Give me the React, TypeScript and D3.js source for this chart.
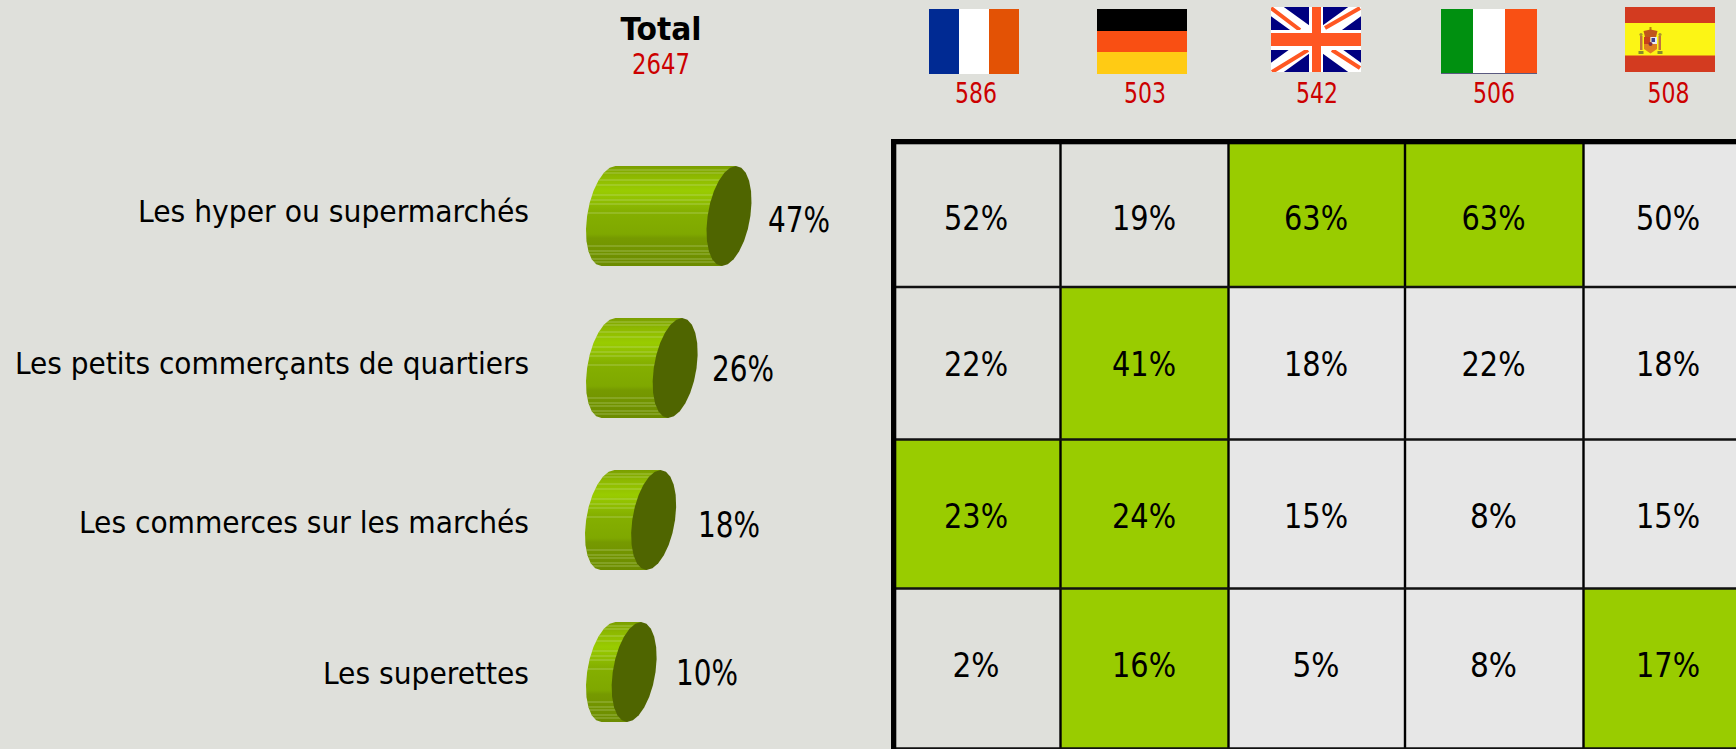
import React from "react";
import * as d3 from "d3";

const categories = ["Les hyper ou supermarchés", "Les petits commerçants de quartiers", "Les commerces sur les marchés", "Les superettes"];
const totals = [47, 26, 18, 10];
const totalBase = 2647;
const countries = ["France", "Allemagne", "Royaume-Uni", "Italie", "Espagne"];
const countryBases = [586, 503, 542, 506, 508];
const france = [52, 22, 23, 2];
const germany = [19, 41, 24, 16];
const uk = [63, 18, 15, 5];
const italy = [63, 22, 8, 8];
const spain = [50, 18, 15, 17];
const highlighted = [[2, 3], [1], [0, 1], [1, 4]];
const plainBgCells = ["0-0", "0-1", "1-0", "3-0"];
const stripes = [0.04, 0.07, 0.14, 0.19, 0.29, 0.34, 0.38, 0.47, 0.8, 0.85, 0.88, 0.93, 0.96];

const W = 1736, H = 749;
const BG = "#DFE0DB", GREEN = "#99CC00", LIGHT = "#E7E7E7", RED = "#CC0000", END = "#4F6500";
const FONT = "'DejaVu Sans Condensed','DejaVu Sans',sans-serif";

const colEdges = [896, 1060.5, 1228.5, 1405, 1583.5, 1740];
const rowEdges = [144, 287, 439.5, 588.5, 748.5];
const colText = [976, 1144, 1316, 1493.5, 1668];
const rowText = [230, 376, 528, 677];
const labelBase = [222, 374, 533, 684];
const labelWidth = [391, 514, 450, 206];
const barTop = [166, 318, 470, 622];
const barLeft = [586, 586, 585, 586];
const barLabelX = [768, 712, 698, 676];
const barLabelBase = [232, 381, 537, 685];
const headerX = [976, 1145, 1317, 1494, 1668.5];

const barScale = d3.scaleLinear().domain([0, 47]).range([0, 120.5]);
const colX = d3.scaleOrdinal<number, number>().domain(d3.range(6)).range(colEdges);
const rowY = d3.scaleOrdinal<number, number>().domain(d3.range(5)).range(rowEdges);

const RX = 21.4, RY = 50, SHEAR = 7;
const ellipsePts = (cx: number, cy: number, from: number, to: number, n: number): [number, number][] =>
  d3.range(n + 1).map((i) => {
    const t = from + ((to - from) * i) / n;
    return [cx + RX * Math.cos(t) - SHEAR * Math.sin(t), cy + RY * Math.sin(t)];
  });
const line = d3.line();

function Cylinder({ i, value }: { i: number; value: number }) {
  const cy = barTop[i] + RY;
  const x0 = barLeft[i] + 22.5;
  const x1 = x0 + barScale(value);
  const left = ellipsePts(x0, cy, -Math.PI / 2, -(3 * Math.PI) / 2, 12);
  const body = line([...left, [x1 - SHEAR, cy + RY], [x1 + SHEAR, cy - RY]]) + "Z";
  const end = line(ellipsePts(x1, cy, 0, 2 * Math.PI, 24)) + "Z";
  return (
    <g>
      <clipPath id={`c${i}`}><path d={body} /></clipPath>
      <path d={body} fill="url(#barGrad)" />
      <g clipPath={`url(#c${i})`}>
        {stripes.map((s, k) => (
          <line key={k} x1={x0 - 30} x2={x1 + 20} y1={barTop[i] + s * 2 * RY} y2={barTop[i] + s * 2 * RY}
            stroke="#D0E0A0" strokeOpacity={0.55} strokeWidth={0.8} />
        ))}
      </g>
      <path d={end} fill={END} />
    </g>
  );
}

function Flags() {
  return (
    <g>
      {/* France */}
      <rect x={929} y={9} width={30} height={65} fill="#002A93" />
      <rect x={959} y={9} width={30} height={65} fill="#FFFFFF" />
      <rect x={989} y={9} width={30} height={65} fill="#E35205" />
      {/* Germany */}
      <rect x={1097} y={9} width={90} height={22} fill="#000000" />
      <rect x={1097} y={31} width={90} height={21} fill="#F94F13" />
      <rect x={1097} y={52} width={90} height={22} fill="#FFCB14" />
      {/* UK */}
      <clipPath id="ukc"><rect x={1271} y={7} width={90} height={65} /></clipPath>
      <g clipPath="url(#ukc)">
        <rect x={1271} y={7} width={90} height={65} fill="#000080" />
        <path d="M1271 7L1361 72M1361 7L1271 72" stroke="#FFFFFF" strokeWidth={15} />
        <path d="M1271 8L1300 30M1360 8L1325 28M1272 72L1308 50M1332 50L1360 68" stroke="#FF5722" strokeWidth={4} />
        <rect x={1271} y={30} width={90} height={20} fill="#FFFFFF" />
        <rect x={1309} y={7} width={14} height={65} fill="#FFFFFF" />
        <rect x={1271} y={33} width={90} height={13} fill="#FF5722" />
        <rect x={1312} y={7} width={9} height={65} fill="#FF5722" />
      </g>
      {/* Italy */}
      <rect x={1441} y={9} width={32} height={65} fill="#009010" />
      <rect x={1473} y={9} width={32} height={65} fill="#FFFFFF" />
      <rect x={1505} y={9} width={32} height={65} fill="#F95014" />
      <rect x={1441} y={73} width={96} height={1} fill="#5A5A80" />
      {/* Spain */}
      <rect x={1625} y={7} width={90} height={65} fill="#D33B20" />
      <rect x={1625} y={23} width={90} height={32.5} fill="#FCF515" />
      <g>
        <rect x={1649.5} y={27} width={2} height={3} fill="#B8860B" />
        <path d="M1645 37L1643.5 31L1650.5 29.5L1657.5 31L1656 37Z" fill="#C0561C" />
        <rect x={1644} y={37} width={6.5} height={7} fill="#C8401A" />
        <rect x={1650.5} y={37} width={6.5} height={7} fill="#E8E8F2" />
        <rect x={1651.5} y={38} width={3.5} height={4} fill="#404090" />
        <path d="M1644 44H1657V49L1650.5 53.5L1644 49Z" fill="#E08020" />
        <circle cx={1650.5} cy={44} r={2} fill="#803040" />
        <rect x={1640} y={36} width={2.5} height={14} fill="#C07040" />
        <rect x={1658.5} y={36} width={2.5} height={14} fill="#C07040" />
        <circle cx={1641} cy={34.5} r={1.6} fill="#A89030" />
        <circle cx={1660} cy={34.5} r={1.6} fill="#A89030" />
        <rect x={1638.5} y={51} width={5} height={3} fill="#8A8A30" />
        <rect x={1657.5} y={51} width={5} height={3} fill="#8A8A30" />
      </g>
    </g>
  );
}

export default function App() {
  const rows = categories.map((_, r) => [france[r], germany[r], uk[r], italy[r], spain[r]]);
  const cellFill = (r: number, c: number) =>
    highlighted[r].includes(c) ? GREEN : plainBgCells.includes(`${r}-${c}`) ? BG : LIGHT;
  return (
    <svg width={W} height={H} viewBox={`0 0 ${W} ${H}`}
      style={{ position: "absolute", left: 0, top: 0, display: "block" }} fontFamily={FONT}>
      <defs>
        <linearGradient id="barGrad" x1="0" y1="0" x2="0" y2="1">
          <stop offset="0" stopColor="#7A9E00" />
          <stop offset="0.1" stopColor="#8DB800" />
          <stop offset="0.25" stopColor="#99CC00" />
          <stop offset="0.45" stopColor="#85B000" />
          <stop offset="0.68" stopColor="#7FA800" />
          <stop offset="0.72" stopColor="#769A00" />
          <stop offset="1" stopColor="#6C8C00" />
        </linearGradient>
      </defs>
      <rect width={W} height={H} fill={BG} />

      <text x={661} y={40} textAnchor="middle" fontSize={32} fontWeight={700} fill="#000"
        textLength={81} lengthAdjust="spacingAndGlyphs">Total</text>
      <text x={661} y={74} textAnchor="middle" fontSize={27.5} fill={RED}
        textLength={58} lengthAdjust="spacingAndGlyphs">{totalBase}</text>

      <Flags />
      {countries.map((c, i) => (
        <text key={c} x={headerX[i]} y={103} textAnchor="middle" fontSize={27.5} fill={RED}
          textLength={42} lengthAdjust="spacingAndGlyphs">{countryBases[i]}</text>
      ))}

      {categories.map((c, i) => (
        <g key={c}>
          <text x={529} y={labelBase[i]} textAnchor="end" fontSize={31} fill="#000"
            textLength={labelWidth[i]} lengthAdjust="spacingAndGlyphs">{c}</text>
          <Cylinder i={i} value={totals[i]} />
          <text x={barLabelX[i]} y={barLabelBase[i]} fontSize={35} fill="#000"
            textLength={62} lengthAdjust="spacingAndGlyphs">{totals[i]}%</text>
        </g>
      ))}

      {rows.map((vals, r) =>
        vals.map((v, c) => (
          <g key={`${r}-${c}`}>
            <rect x={colX(c)} y={rowY(r)} width={colX(c + 1) - colX(c)} height={rowY(r + 1) - rowY(r)} fill={cellFill(r, c)} />
            <text x={colText[c]} y={rowText[r]} textAnchor="middle" fontSize={33} fill="#000"
              textLength={v < 10 ? 47 : 64} lengthAdjust="spacingAndGlyphs">{v}%</text>
          </g>
        ))
      )}
      {colEdges.slice(1, 5).map((x, i) => (
        <line key={i} x1={x} x2={x} y1={144} y2={749} stroke="#000" strokeWidth={2.4} />
      ))}
      {rowEdges.slice(1).map((y, i) => (
        <line key={i} x1={896} x2={W} y1={y} y2={y} stroke="#111" strokeWidth={2.4} />
      ))}
      <rect x={891} y={139} width={W - 891} height={5.3} fill="#000" />
      <rect x={891} y={139} width={5.3} height={H - 139} fill="#000" />
    </svg>
  );
}
